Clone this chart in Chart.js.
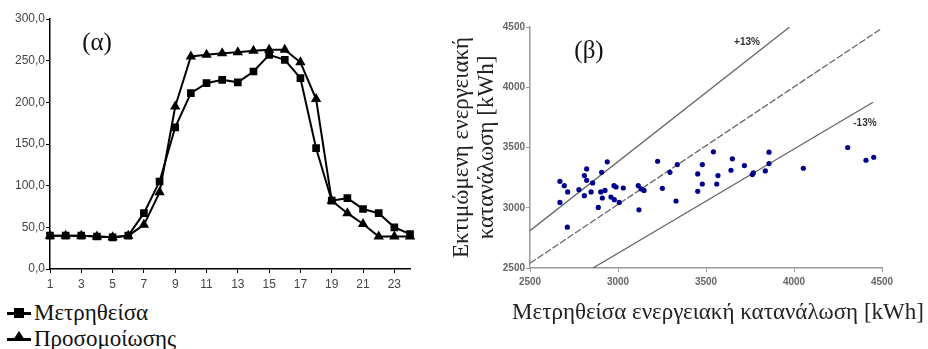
<!DOCTYPE html>
<html lang="el">
<head>
<meta charset="UTF-8">
<title>Κατανάλωση ενέργειας</title>
<script src="https://cdn.jsdelivr.net/npm/chart.js"></script>
<style>
    body {
        margin: 0;
        width: 928px;
        height: 349px;
        position: relative;
        background: #fff;
        overflow: hidden;
        font-family: "Liberation Serif", "DejaVu Serif", serif;
    }
    .panel { position: absolute; }
    .tag {
        position: absolute;
        font-size: 25px;
        color: #111;
        transform: translate(-50%, -50%);
    }
    #legend {
        position: absolute;
        left: 7px;
        top: 300px;
        font-size: 23px;
        color: #111;
    }
    #legend .item { display: flex; align-items: center; height: 26px; }
    #legend .mark {
        position: relative;
        width: 24px;
        height: 3px;
        background: #000;
        margin-right: 3px;
    }
    #legend .mark i {
        position: absolute;
        left: 7px;
        top: -4px;
        width: 10px;
        height: 10px;
        background: #000;
    }
    #legend .mark i.tri {
        background: none;
        width: 0;
        height: 0;
        left: 6px;
        top: -7px;
        border-left: 6px solid transparent;
        border-right: 6px solid transparent;
        border-bottom: 9px solid #000;
    }
</style>
</head>
<body>
<div class="panel" style="left:0;top:0"><canvas id="hourChart" width="420" height="300"></canvas></div>
<div class="panel" style="left:420px;top:0"><canvas id="scatterChart" width="508" height="349"></canvas></div>
<div class="tag" style="left:97px;top:42px">(α)</div>
<div class="tag" style="left:589px;top:50px">(β)</div>
<div id="legend"></div>

<script>
// (α) hourly load
const hours = ['1','2','3','4','5','6','7','8','9','10','11','12','13','14','15','16','17','18','19','20','21','22','23','24'];
const measured = [40, 40, 40, 39, 38, 40, 67, 105, 170, 211, 223, 227, 224, 237, 257, 251, 229, 145, 82, 85, 72, 67, 50, 42];
const simulated = [40, 40, 40, 39, 38, 40, 53, 92, 195, 255, 257, 259, 260, 262, 263, 263, 248, 204, 82, 67, 54, 39, 39, 39];
const seriesNames = ['Μετρηθείσα', 'Προσομοίωσης'];

// (β) measured vs estimated consumption [kWh]
const measuredKwh = [2670, 2695, 2714, 2670, 2712, 2778, 2809, 2822, 2822, 2856, 2809, 2847, 2939, 2907, 2902, 2926, 2911, 2888,
    2977, 2989, 3030, 2960, 2979, 3007, 3115, 3131, 3148, 3119, 3225, 3252, 3295, 3337, 3330, 3453, 3479, 3542, 3479, 3453,
    3568, 3561, 3650, 3642, 3718, 3769, 3763, 3837, 3858, 3858, 4053, 4305, 4409, 4453];
const estimatedKwh = [3219, 3183, 3131, 3044, 2839, 3150, 3267, 3322, 3228, 3206, 3100, 3131, 3381, 3294, 3131, 3144, 3081, 3003,
    3183, 3172, 3164, 3089, 3067, 3044, 3183, 3156, 3144, 2983, 3386, 3161, 3294, 3358, 3056, 3281, 3358, 3464, 3197, 3136,
    3267, 3197, 3406, 3311, 3350, 3289, 3275, 3306, 3367, 3461, 3328, 3500, 3394, 3419];
const upperLine = [[2500, 2810], [3975, 4500]];
const centerLine = [[2500, 2540], [4500, 4490]];
const lowerLine = [[2858, 2500], [4449, 3875]];
const bandLabels = [{ text: '+13%', x: 3733, y: 4375 }, { text: '-13%', x: 4403, y: 3700 }];
const xCaption = 'Μετρηθείσα ενεργειακή κατανάλωση [kWh]';

const toPoints = pairs => pairs.map(p => ({ x: p[0], y: p[1] }));

// left chart
new Chart(document.getElementById('hourChart'), {
    type: 'line',
    data: {
        labels: hours,
        datasets: [
            {
                label: seriesNames[0],
                data: measured,
                borderColor: '#000',
                backgroundColor: '#000',
                borderWidth: 2,
                pointStyle: 'rect',
                pointRadius: 4,
                clip: false
            },
            {
                label: seriesNames[1],
                data: simulated,
                borderColor: '#000',
                backgroundColor: '#000',
                borderWidth: 2,
                pointStyle: 'triangle',
                pointRadius: 4,
                clip: false
            }
        ]
    },
    options: {
        responsive: false,
        animation: false,
        layout: { padding: { top: 19, right: 10, left: 0, bottom: 0 } },
        plugins: { legend: { display: false }, tooltip: { enabled: false } },
        elements: { line: { tension: 0 } },
        scales: {
            x: {
                offset: false,
                afterFit: s => { s.height = 31; },
                border: { color: '#000', width: 1.5 },
                grid: {
                    drawOnChartArea: false,
                    tickLength: 4,
                    color: c => (c.index % 2 === 0 ? '#000' : 'rgba(0,0,0,0)')
                },
                ticks: {
                    autoSkip: false,
                    maxRotation: 0,
                    padding: 4,
                    color: '#444',
                    font: { family: 'Arial, "Liberation Sans"', size: 12 },
                    callback: (v, i) => (i % 2 === 0 ? hours[i] : '')
                }
            },
            y: {
                min: 0,
                max: 300,
                afterFit: s => { s.width = 50; },
                border: { color: '#000', width: 1.5 },
                grid: { drawOnChartArea: false, tickLength: 4, color: '#000' },
                ticks: {
                    stepSize: 50,
                    padding: 1,
                    color: '#444',
                    font: { family: 'Arial, "Liberation Sans"', size: 12 },
                    callback: v => v.toFixed(1).replace('.', ',')
                }
            }
        }
    }
});

// legend for (α)
const legend = document.getElementById('legend');
seriesNames.forEach((name, i) => {
    const row = document.createElement('div');
    row.className = 'item';
    row.innerHTML = '<span class="mark"><i class="' + (i === 0 ? 'sq' : 'tri') + '"></i></span>' + name;
    legend.appendChild(row);
});

const serif = '"Liberation Serif", "DejaVu Serif", serif';

// +13% / -13% labels and the x caption (wider than the plot, so not a scale title)
const bandText = {
    id: 'bandText',
    afterDraw(chart) {
        const { ctx, scales } = chart;
        ctx.save();
        ctx.fillStyle = '#333';
        ctx.font = 'bold 10px Arial, "Liberation Sans"';
        ctx.textAlign = 'center';
        ctx.textBaseline = 'middle';
        bandLabels.forEach(b => {
            ctx.fillText(b.text, scales.x.getPixelForValue(b.x), scales.y.getPixelForValue(b.y));
        });
        ctx.fillStyle = '#222';
        ctx.font = '23px ' + serif;
        ctx.fillText(xCaption, 298, 313);
        ctx.restore();
    }
};

const tickFont = { family: 'Arial, "Liberation Sans"', size: 10, weight: 'bold' };

// right chart
new Chart(document.getElementById('scatterChart'), {
    type: 'scatter',
    data: {
        datasets: [
            {
                label: 'Εκτίμηση',
                data: measuredKwh.map((m, i) => ({ x: m, y: estimatedKwh[i] })),
                backgroundColor: '#00008b',
                borderColor: '#00008b',
                pointStyle: 'circle',
                pointRadius: 2.6,
                borderWidth: 0
            },
            {
                data: toPoints(upperLine),
                type: 'line',
                showLine: true,
                borderColor: '#666',
                borderWidth: 1.3,
                pointRadius: 0
            },
            {
                data: toPoints(centerLine),
                type: 'line',
                showLine: true,
                borderColor: '#666',
                borderWidth: 1.3,
                borderDash: [7, 2],
                pointRadius: 0
            },
            {
                data: toPoints(lowerLine),
                type: 'line',
                showLine: true,
                borderColor: '#666',
                borderWidth: 1.3,
                pointRadius: 0
            }
        ]
    },
    options: {
        responsive: false,
        animation: false,
        layout: { padding: { top: 27, right: 46, left: 0, bottom: 0 } },
        plugins: { legend: { display: false }, tooltip: { enabled: false } },
        scales: {
            x: {
                type: 'linear',
                min: 2500,
                max: 4500,
                afterFit: s => { s.height = 81; },
                border: { color: '#999', width: 1.5 },
                grid: { drawOnChartArea: false, tickLength: 4, color: '#999' },
                ticks: { stepSize: 500, padding: 4, color: '#666', font: tickFont, callback: v => String(v) }
            },
            y: {
                min: 2500,
                max: 4500,
                afterFit: s => { s.width = 110; },
                border: { color: '#999', width: 1.5 },
                grid: { drawOnChartArea: false, tickLength: 4, color: '#999' },
                ticks: { stepSize: 500, padding: 1, color: '#666', font: tickFont, callback: v => String(v) },
                title: {
                    display: true,
                    text: ['Εκτιμώμενη ενεργειακή', 'κατανάλωση [kWh]'],
                    color: '#222',
                    font: { family: serif, size: 23, lineHeight: 1.1 },
                    padding: { top: 29, bottom: 0 }
                }
            }
        }
    },
    plugins: [bandText]
});
</script>
</body>
</html>
